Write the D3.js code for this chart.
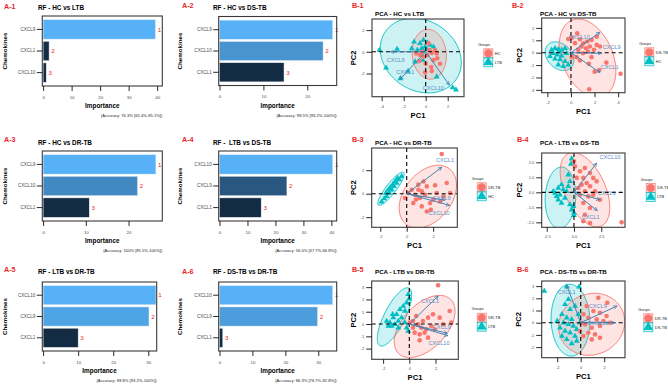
<!DOCTYPE html>
<html>
<head>
<meta charset="utf-8">
<script src="https://cdn.jsdelivr.net/npm/d3@7"></script>
<style>
  body { margin: 0; background: #fff; }
  svg { display: block; }
</style>
</head>
<body>
<svg id="fig" width="668" height="384"></svg>
<script>
// ---------- data: random forest importance ----------
const rfTags = ["A-1", "A-2", "A-3", "A-4", "A-5", "A-6"];
const rfTitles = ["RF - HC vs LTB", "RF - HC vs DS-TB", "RF - HC vs DR-TB", "RF -  LTB vs DS-TB", "RF - LTB vs DR-TB", "RF - DS-TB vs DR-TB"];
const rfGenes = [
  ["CXCL9", "CXCL1", "CXCL10"],
  ["CXCL9", "CXCL10", "CXCL1"],
  ["CXCL9", "CXCL10", "CXCL1"],
  ["CXCL10", "CXCL9", "CXCL1"],
  ["CXCL10", "CXCL9", "CXCL1"],
  ["CXCL10", "CXCL9", "CXCL1"]
];
const rfImportance = [
  [39.4, 2.1, 1.1],
  [25.8, 23.6, 14.7],
  [26.4, 22.1, 10.8],
  [40.5, 24.1, 14.9],
  [32.2, 30.2, 10.0],
  [34.4, 29.8, 1.0]
];
const rfTicks = [[0, 10, 20, 30, 40], [0, 10, 20], [0, 10, 20], [0, 10, 20, 30, 40], [0, 10, 20, 30], [0, 10, 20, 30]];
const rfAccuracy = [
  "(Accuracy: 76.3% [65.4%-85.1%])",
  "(Accuracy: 98.5% [93.2%-100%])",
  "(Accuracy: 100% [95.5%-100%])",
  "(Accuracy: 56.0% [37.7%-66.8%])",
  "(Accuracy: 98.8% [93.2%-100%])",
  "(Accuracy: 86.3% [76.7%-92.8%])"
];

// ---------- data: PCA biplots ----------
const pcaTags = ["B-1", "B-2", "B-3", "B-4", "B-5", "B-6"];
const pcaTitles = ["PCA - HC vs LTB", "PCA - HC vs DS-TB", "PCA - HC vs DR-TB", "PCA - LTB vs DS-TB", "PCA - LTB vs DR-TB", "PCA - DS-TB vs DR-TB"];
// first group = circles, second group = triangles
const pcaGroups = [["HC", "LTB"], ["DS-TB", "HC"], ["DR-TB", "HC"], ["DS-TB", "LTB"], ["DR-TB", "LTB"], ["DR-TB", "DS-TB"]];
const pcaCircles = [
  [[0.33,0.16],[0.55,-0.1],[0.15,-0.3],[-0.2,-0.46],[-0.58,-0.86],[0.0,-1.1],[0.7,-0.77],[1.05,-0.6],[1.3,-1.1],[0.5,-1.4],[0.85,0.16],[-0.35,0.0],[-0.5,-0.3],[-0.85,-0.15],[1.0,-0.15],[0.25,0.77],[0.55,-1.78],[-0.05,-1.9]],
  [[-0.23,1.1],[0.06,1.2],[0.53,1.56],[0.76,1.08],[1.04,0.76],[1.38,0.9],[1.75,1.03],[2.18,1.29],[0.9,0.5],[1.27,0.36],[1.6,0.5],[1.95,0.23],[0.62,0.23],[1.44,0.1],[1.02,-0.05],[2.18,0.63],[2.46,0.5],[0.76,-0.63],[1.52,-0.9],[1.74,-0.36],[0.48,-0.36],[2.0,-1.53],[2.4,-1.4],[4.2,-1.7],[1.55,-2.95],[3.0,-0.8],[0.08,-0.36],[0.34,0.77]],
  [[2.65,3.38],[0.13,0.06],[0.38,0.34],[0.63,-0.09],[0.88,0.34],[1.14,0.2],[0.71,-0.5],[1.0,-0.37],[1.39,-0.09],[1.52,0.62],[2.15,0.71],[3.03,0.91],[1.77,-0.8],[1.14,-1.08],[0.5,-0.8],[1.82,-1.37],[2.53,-0.66],[2.78,-0.23],[-0.12,-0.37],[1.27,1.04],[2.27,0.06],[3.28,0.06],[1.52,-1.51],[0.88,0.77],[2.02,-0.5]],
  [[0.0,2.07],[0.09,1.73],[0.55,1.4],[1.0,1.62],[1.47,1.29],[1.77,0.96],[2.08,0.73],[0.86,0.96],[1.16,0.62],[0.7,0.51],[1.47,0.4],[1.0,0.07],[0.4,0.29],[0.55,-0.16],[1.32,-0.27],[1.77,-0.16],[0.86,-0.71],[1.47,-1.04],[1.0,-1.49],[0.86,-1.93],[1.47,-2.04],[4.37,-2.0],[2.39,-0.49],[0.25,0.96],[1.93,0.07]],
  [[2.2,3.15],[0.03,0.11],[0.28,0.24],[0.66,-0.03],[1.04,0.24],[1.43,0.52],[1.81,0.79],[2.32,0.52],[3.08,1.06],[0.92,-0.3],[1.3,-0.43],[1.68,-0.16],[0.41,-0.7],[0.79,-0.84],[1.17,-0.7],[0.79,-1.33],[1.43,-1.11],[1.94,-0.43],[2.57,-0.03],[0.53,0.65],[0.28,-0.3],[3.21,0.11]],
  [[1.5,2.05],[2.26,1.64],[0.51,1.37],[1.08,0.96],[0.23,0.69],[0.65,0.41],[1.36,0.27],[1.93,0.14],[2.5,0.0],[0.37,-0.14],[0.94,-0.41],[1.64,-0.27],[0.65,-0.82],[1.22,-0.96],[1.64,-1.23],[0.23,-1.1],[0.94,-1.37],[0.08,0.0],[2.2,0.55],[1.64,0.82],[-0.06,-0.68]]
];
const pcaTriangles = [
  [[-4.2,0.15],[-3.6,-1.48],[-2.6,0.25],[-2.3,-2.46],[-1.6,-1.78],[-1.27,0.3],[-1.06,0.92],[-0.52,0.77],[-0.2,1.08],[0.15,0.83],[0.4,0.62],[-0.06,0.46],[-0.36,0.31],[0.7,0.46],[-0.76,0.16],[0.07,0.2],[-0.97,-0.92],[-0.27,-0.77],[1.0,-2.3],[2.45,-3.3],[2.75,-3.5]],
  [[-1.64,0.22],[-1.35,0.35],[-1.07,0.27],[-0.79,0.22],[-0.5,0.35],[-1.5,-0.05],[-1.16,-0.18],[-0.79,-0.26],[-0.37,-0.05],[-1.35,-0.5],[-0.93,-0.55],[-0.5,-0.7],[-1.07,-0.97],[-0.65,-1.1],[-0.23,-0.97],[-1.78,-0.3],[-1.0,0.1]],
  [[-1.9,-0.7],[-1.7,-0.42],[-1.52,-0.23],[-1.32,0.06],[-1.14,0.34],[-0.97,0.62],[-0.76,0.91],[-0.56,1.2],[-0.38,1.48],[-1.39,0.34],[-1.06,0.77],[-0.88,1.05],[-1.57,0.06],[-0.7,1.33],[-1.24,0.54]],
  [[-0.21,2.24],[-0.28,1.89],[-0.52,1.17],[-0.37,0.73],[-1.44,0.29],[-1.74,-0.04],[-1.6,-0.27],[-1.29,-0.16],[-1.44,-0.49],[-1.14,-0.71],[-0.83,-0.38],[-0.67,0.07],[-0.98,0.18],[-0.37,-0.82],[-0.21,-1.16],[0.0,-1.38],[0.0,-1.53],[-0.06,-0.93],[-1.9,0.07],[-1.14,0.51],[-0.52,0.4]],
  [[-0.08,2.41],[0.0,2.06],[-0.2,1.73],[-0.46,1.46],[-0.71,1.19],[-0.97,0.79],[-1.22,0.52],[-1.48,0.11],[-1.6,-0.16],[-1.35,-0.16],[-1.1,-0.03],[-0.84,0.24],[-0.59,0.52],[-1.73,0.24],[-0.33,0.11],[-0.84,-0.3],[-0.2,-0.3],[-0.08,-0.57],[-1.27,0.79],[-0.33,1.06]],
  [[-3.1,2.6],[-1.19,2.95],[-0.14,2.95],[-1.05,1.92],[-1.33,1.51],[-0.9,1.1],[-0.48,1.37],[-1.6,0.69],[-1.19,0.41],[-0.77,0.27],[-1.47,0.0],[-1.05,-0.14],[-0.62,-0.27],[-1.76,-0.41],[-1.33,-0.68],[-0.9,-0.82],[-0.48,-1.1],[-1.19,-1.37],[-0.77,-1.7],[-0.34,-1.5],[-0.06,0.0],[-0.2,0.69],[-2.0,0.14],[-1.6,-1.1],[-0.34,-0.55]]
];
// ellipses: [centre x, centre y, semi-axis a, semi-axis b, angle in degrees]
const pcaEllCircles = [[0.32,-0.23,2.3,1.55,95],[1.41,-0.44,3.34,2.14,-65],[1.6,-0.25,2.89,1.87,60],[1.01,0.18,2.9,1.7,-50],[1.17,-0.2,2.97,1.72,50],[0.93,-0.13,2.85,2.5,20]];
const pcaEllTriangles = [[-0.45,-0.35,3.9,3.2,-35],[-0.97,-0.28,1.35,1.0,-40],[-1.19,0.42,1.69,0.4,56],[-1.24,-0.36,2.05,1.4,85],[-1.13,0.58,2.59,0.8,65],[-0.87,0.21,2.95,1.65,92]];
const pcaGenes = [
  ["CXCL9", "CXCL1", "CXCL10"],
  ["CXCL10", "CXCL9", "CXCL1"],
  ["CXCL1", "CXCL9", "CXCL10"],
  ["CXCL10", "CXCL9", "CXCL1"],
  ["CXCL1", "CXCL9", "CXCL10"],
  ["CXCL1", "CXCL9", "CXCL10"]
];
const pcaArrows = [
  [[-3.2,0.0],[-2.35,-2.55],[2.15,-3.07]],
  [[2.46,1.65],[2.6,-0.05],[2.46,-1.6]],
  [[2.65,2.25],[2.9,-0.55],[3.25,-0.99]],
  [[2.08,1.95],[2.38,-0.49],[2.14,-1.22]],
  [[2.2,2.28],[2.9,-0.75],[2.95,-0.95]],
  [[-1.19,3.07],[3.1,1.37],[2.92,0.0]]
];
const pcaLabelAt = [
  [[-2.73,-0.8],[-1.85,-1.9],[0.7,-3.38]],
  [[0.7,1.24],[3.45,0.48],[3.28,-1.13]],
  [[2.9,2.84],[2.65,-0.37],[2.45,-1.64]],
  [[3.3,2.37],[3.0,-0.05],[1.53,-1.67]],
  [[1.58,1.87],[2.47,-0.22],[2.27,-1.57]],
  [[-1.19,2.54],[1.45,1.37],[1.45,0.0]]
];
const pcaXTicks = [[-4, -2, 0, 2], [-2, 0, 2, 4], [-2, 0, 2], [-2.5, 0, 2.5], [-2, 0, 2], [-2, 0, 2]];
const pcaYTicks = [[-2, 0, 2], [-3, -2, -1, 0, 1, 2], [-2, 0, 2], [-2, -1, 0, 1, 2], [-2, -1, 0, 1, 2, 3], [-2, -1, 0, 1, 2, 3]];

// ---------- layout ----------
const FONT = "'Liberation Sans', Arial, Helvetica, sans-serif";
const RED = "#e8262b";
const SALMON = "#F8766D";
const TEAL = "#00BFC4";
const ARROW = "#4682B4";

const rfLayout = [
  { x0: 42.3, y0: 16, x1: 162.3, y1: 86, xMax: 41.8, tagX: 4, tagY: 9, titleX: 38, titleY: 9.5, chemX: 7.3 },
  { x0: 218.7, y0: 16.5, x1: 336.7, y1: 85.5, xMax: 26.7, tagX: 182, tagY: 8, titleX: 213, titleY: 9.5, chemX: 182.3 },
  { x0: 42.3, y0: 151, x1: 162.3, y1: 221, xMax: 27.9, tagX: 4, tagY: 141.5, titleX: 38, titleY: 145, chemX: 7.3 },
  { x0: 218.7, y0: 151, x1: 336.7, y1: 221, xMax: 41.9, tagX: 182, tagY: 142, titleX: 213, titleY: 145, chemX: 182.3 },
  { x0: 42.3, y0: 282, x1: 156.7, y1: 351, xMax: 32.4, tagX: 4, tagY: 271.5, titleX: 38, titleY: 274, chemX: 7.3 },
  { x0: 218.7, y0: 282, x1: 336.7, y1: 351, xMax: 35.6, tagX: 182, tagY: 273.5, titleX: 213, titleY: 274, chemX: 182.3 }
];

const pcaLayout = [
  { x0: 372, y0: 19, x1: 464, y1: 96.7, xd: [-4.88, 3.48], yd: [-4.14, 3.02], tagX: 352, tagY: 8, titleX: 375, titleY: 16.3, pc2X: 355.5, legX: 488.3, legY: 53.3 },
  { x0: 541.7, y0: 18, x1: 625, y1: 92.7, xd: [-2.48, 4.58], yd: [-3.23, 2.8], tagX: 512, tagY: 7.5, titleX: 540, titleY: 16.3, pc2X: 521.5, legX: 649.3, legY: 52.3 },
  { x0: 371.7, y0: 148, x1: 457.3, y1: 227.3, xd: [-2.65, 3.83], yd: [-2.86, 3.89], tagX: 352, tagY: 141.5, titleX: 375, titleY: 144.8, pc2X: 355.5, legX: 481.7, legY: 187.3 },
  { x0: 541.7, y0: 153, x1: 625, y1: 227.3, xd: [-2.96, 4.68], yd: [-2.33, 2.62], tagX: 517, tagY: 141.5, titleX: 540, titleY: 144.8, pc2X: 521.5, legX: 650.7, legY: 188 },
  { x0: 371.7, y0: 281, x1: 458.3, y1: 359.3, xd: [-2.87, 3.74], yd: [-2.87, 3.5], tagX: 352, tagY: 271.5, titleX: 375, titleY: 274, pc2X: 355.5, legX: 481.7, legY: 317.7 },
  { x0: 541.7, y0: 281, x1: 625, y1: 357.7, xd: [-3.32, 3.77], yd: [-2.87, 3.42], tagX: 517, tagY: 271.5, titleX: 540, titleY: 274, pc2X: 520.8, legX: 648.3, legY: 318.3 }
];

const svg = d3.select("#fig").attr("font-family", FONT);

// arrow head for loadings
svg.append("defs").append("marker")
  .attr("id", "head")
  .attr("viewBox", "0 0 10 10")
  .attr("refX", 9).attr("refY", 5)
  .attr("markerWidth", 4.5).attr("markerHeight", 4.5)
  .attr("markerUnits", "userSpaceOnUse")
  .attr("orient", "auto")
  .append("path")
  .attr("d", "M1,1 L9,5 L1,9")
  .attr("fill", "none")
  .attr("stroke", ARROW)
  .attr("stroke-width", 1.6);

function styleAxis(g, fs) {
  g.attr("font-family", FONT).attr("font-size", fs);
  g.select(".domain").remove();
  g.selectAll(".tick line").attr("stroke", "#111").attr("stroke-width", 0.9);
  g.selectAll(".tick text").attr("fill", "#4d4d4d");
}

function drawRF(i) {
  const L = rfLayout[i];
  const genes = rfGenes[i];
  const vals = rfImportance[i];
  const g = svg.append("g");

  const x = d3.scaleLinear().domain([0, L.xMax]).range([L.x0 + 0.8, L.x1]);
  const y = d3.scaleBand().domain(genes).range([L.y0, L.y1]).paddingInner(0.1).paddingOuter(0.17);
  const fill = d3.scaleLinear()
    .domain(d3.extent(vals))
    .range(["#132B43", "#56B1F7"])
    .interpolate(d3.interpolateLab);

  g.selectAll(".bar")
    .data(genes)
    .join("rect")
    .attr("class", "bar")
    .attr("x", x(0))
    .attr("y", (d) => y(d))
    .attr("width", (d, j) => x(vals[j]) - x(0))
    .attr("height", y.bandwidth())
    .attr("fill", (d, j) => fill(vals[j]))
    .attr("stroke", "#e8eef4")
    .attr("stroke-width", 0.5);

  // rank numbers
  g.selectAll(".rank")
    .data(genes)
    .join("text")
    .attr("class", "rank")
    .attr("x", (d, j) => x(vals[j]) + 2.2)
    .attr("y", (d) => y(d) + y.bandwidth() / 2)
    .attr("dy", "0.36em")
    .attr("font-size", 6.2)
    .attr("fill", RED)
    .text((d, j) => j + 1);

  g.append("rect")
    .attr("x", L.x0).attr("y", L.y0)
    .attr("width", L.x1 - L.x0).attr("height", L.y1 - L.y0)
    .attr("fill", "none").attr("stroke", "#3a3a3a").attr("stroke-width", 1.1);

  const xAxis = g.append("g")
    .attr("transform", `translate(0,${L.y1})`)
    .call(d3.axisBottom(x).tickValues(rfTicks[i]).tickSize(5).tickPadding(4.5).tickFormat(d3.format("d")));
  styleAxis(xAxis, 4.4);

  const yAxis = g.append("g")
    .attr("transform", `translate(${L.x0},0)`)
    .call(d3.axisLeft(y).tickSize(5.5).tickPadding(1.5));
  styleAxis(yAxis, 4.6);

  g.append("text")
    .attr("x", L.tagX).attr("y", L.tagY)
    .attr("font-size", 7.2).attr("font-weight", "bold").attr("fill", RED)
    .text(rfTags[i]);
  g.append("text")
    .attr("x", L.titleX).attr("y", L.titleY)
    .attr("font-size", 6.4).attr("font-weight", "bold")
    .style("white-space", "pre")
    .text(rfTitles[i]);
  g.append("text")
    .attr("transform", `translate(${L.chemX},${(L.y0 + L.y1) / 2}) rotate(-90)`)
    .attr("text-anchor", "middle")
    .attr("font-size", 6.2).attr("font-weight", "bold")
    .text("Chemokines");
  g.append("text")
    .attr("x", (L.x0 + L.x1) / 2).attr("y", L.y1 + 22)
    .attr("text-anchor", "middle")
    .attr("font-size", 6.4).attr("font-weight", "bold")
    .text("Importance");
  g.append("text")
    .attr("x", L.x1).attr("y", L.y1 + 31.3)
    .attr("text-anchor", "end")
    .attr("font-size", 4.1).attr("fill", "#222")
    .text(rfAccuracy[i]);
}

function ellipsePath(e, x, y) {
  const [cx, cy, a, b, deg] = e;
  const th = deg * Math.PI / 180;
  const pts = d3.range(0, 2 * Math.PI, Math.PI / 60).map((t) => [
    cx + a * Math.cos(t) * Math.cos(th) - b * Math.sin(t) * Math.sin(th),
    cy + a * Math.cos(t) * Math.sin(th) + b * Math.sin(t) * Math.cos(th)
  ]);
  return d3.line().x((p) => x(p[0])).y((p) => y(p[1])).curve(d3.curveLinearClosed)(pts);
}

function drawPCA(i) {
  const L = pcaLayout[i];
  const g = svg.append("g");
  const x = d3.scaleLinear().domain(L.xd).range([L.x0, L.x1]);
  const y = d3.scaleLinear().domain(L.yd).range([L.y1, L.y0]);

  const clipId = "clip" + i;
  g.append("clipPath").attr("id", clipId)
    .append("rect")
    .attr("x", L.x0).attr("y", L.y0)
    .attr("width", L.x1 - L.x0).attr("height", L.y1 - L.y0);
  const plot = g.append("g").attr("clip-path", `url(#${clipId})`);

  // ellipses
  const ells = [[pcaEllTriangles[i], TEAL], [pcaEllCircles[i], SALMON]];
  ells.forEach(([e, c]) => {
    plot.append("path")
      .attr("d", ellipsePath(e, x, y))
      .attr("fill", c).attr("fill-opacity", 0.2)
      .attr("stroke", c).attr("stroke-width", 0.9);
  });

  // points
  plot.selectAll(".tri")
    .data(pcaTriangles[i])
    .join("path")
    .attr("class", "tri")
    .attr("transform", (d) => `translate(${x(d[0])},${y(d[1])})`)
    .attr("d", d3.symbol().type(d3.symbolTriangle).size(15))
    .attr("fill", TEAL);
  plot.selectAll(".dot")
    .data(pcaCircles[i])
    .join("circle")
    .attr("class", "dot")
    .attr("cx", (d) => x(d[0]))
    .attr("cy", (d) => y(d[1]))
    .attr("r", 2.3)
    .attr("fill", SALMON);

  // zero lines
  plot.append("line")
    .attr("x1", L.x0).attr("x2", L.x1).attr("y1", y(0)).attr("y2", y(0))
    .attr("stroke", "#000").attr("stroke-width", 1.1).attr("stroke-dasharray", "4,3");
  plot.append("line")
    .attr("x1", x(0)).attr("x2", x(0)).attr("y1", L.y0).attr("y2", L.y1)
    .attr("stroke", "#000").attr("stroke-width", 1.1).attr("stroke-dasharray", "4,3");

  // loadings
  plot.selectAll(".load")
    .data(pcaArrows[i])
    .join("line")
    .attr("class", "load")
    .attr("x1", x(0)).attr("y1", y(0))
    .attr("x2", (d) => x(d[0])).attr("y2", (d) => y(d[1]))
    .attr("stroke", ARROW).attr("stroke-width", 1)
    .attr("marker-end", "url(#head)");
  plot.selectAll(".lab")
    .data(pcaLabelAt[i])
    .join("text")
    .attr("class", "lab")
    .attr("x", (d) => x(d[0])).attr("y", (d) => y(d[1]))
    .attr("dy", "0.36em")
    .attr("text-anchor", "middle")
    .attr("font-size", 5.6)
    .attr("fill", "#5b8fc6")
    .text((d, j) => pcaGenes[i][j]);

  g.append("rect")
    .attr("x", L.x0).attr("y", L.y0)
    .attr("width", L.x1 - L.x0).attr("height", L.y1 - L.y0)
    .attr("fill", "none").attr("stroke", "#3a3a3a").attr("stroke-width", 1.1);

  const fmt = i === 3 ? (d) => d.toFixed(1) : (d) => String(d);
  const xAxis = g.append("g")
    .attr("transform", `translate(0,${L.y1})`)
    .call(d3.axisBottom(x).tickValues(pcaXTicks[i]).tickSize(4.5).tickPadding(3.5).tickFormat(fmt));
  styleAxis(xAxis, 4);
  const yAxis = g.append("g")
    .attr("transform", `translate(${L.x0},0)`)
    .call(d3.axisLeft(y).tickValues(pcaYTicks[i]).tickSize(5.5).tickPadding(2).tickFormat(fmt));
  styleAxis(yAxis, 4);

  g.append("text")
    .attr("x", L.tagX).attr("y", L.tagY)
    .attr("font-size", 7.2).attr("font-weight", "bold").attr("fill", RED)
    .text(pcaTags[i]);
  g.append("text")
    .attr("x", L.titleX).attr("y", L.titleY)
    .attr("font-size", 6.2).attr("font-weight", "bold")
    .text(pcaTitles[i]);
  g.append("text")
    .attr("x", (L.x0 + L.x1) / 2).attr("y", L.y1 + 21)
    .attr("text-anchor", "middle")
    .attr("font-size", 7.6).attr("font-weight", "bold")
    .text("PC1");
  g.append("text")
    .attr("transform", `translate(${L.pc2X},${(L.y0 + L.y1) / 2}) rotate(-90)`)
    .attr("text-anchor", "middle")
    .attr("font-size", 7.6).attr("font-weight", "bold")
    .text("PC2");

  // legend
  const lg = g.append("g");
  lg.append("text")
    .attr("x", L.legX - 10).attr("y", L.legY - 7.5)
    .attr("font-size", 3.6).attr("fill", "#222")
    .text("Groups");
  const keys = [[SALMON, d3.symbolCircle, 0], [TEAL, d3.symbolTriangle, 1]];
  keys.forEach(([c, sym, k]) => {
    const ky = L.legY + k * 9;
    lg.append("rect")
      .attr("x", L.legX - 4.5).attr("y", ky - 4.5)
      .attr("width", 9).attr("height", 9)
      .attr("fill", c).attr("fill-opacity", 0.2)
      .attr("stroke", c).attr("stroke-width", 0.7);
    lg.append("path")
      .attr("transform", `translate(${L.legX},${ky})`)
      .attr("d", d3.symbol().type(sym).size(k === 0 ? 50 : 40))
      .attr("fill", c);
    lg.append("text")
      .attr("x", L.legX + 6.5).attr("y", ky)
      .attr("dy", "0.36em")
      .attr("font-size", 4).attr("fill", "#222")
      .text(pcaGroups[i][k]);
  });
}

d3.range(6).forEach(drawRF);
d3.range(6).forEach(drawPCA);
</script>
</body>
</html>
